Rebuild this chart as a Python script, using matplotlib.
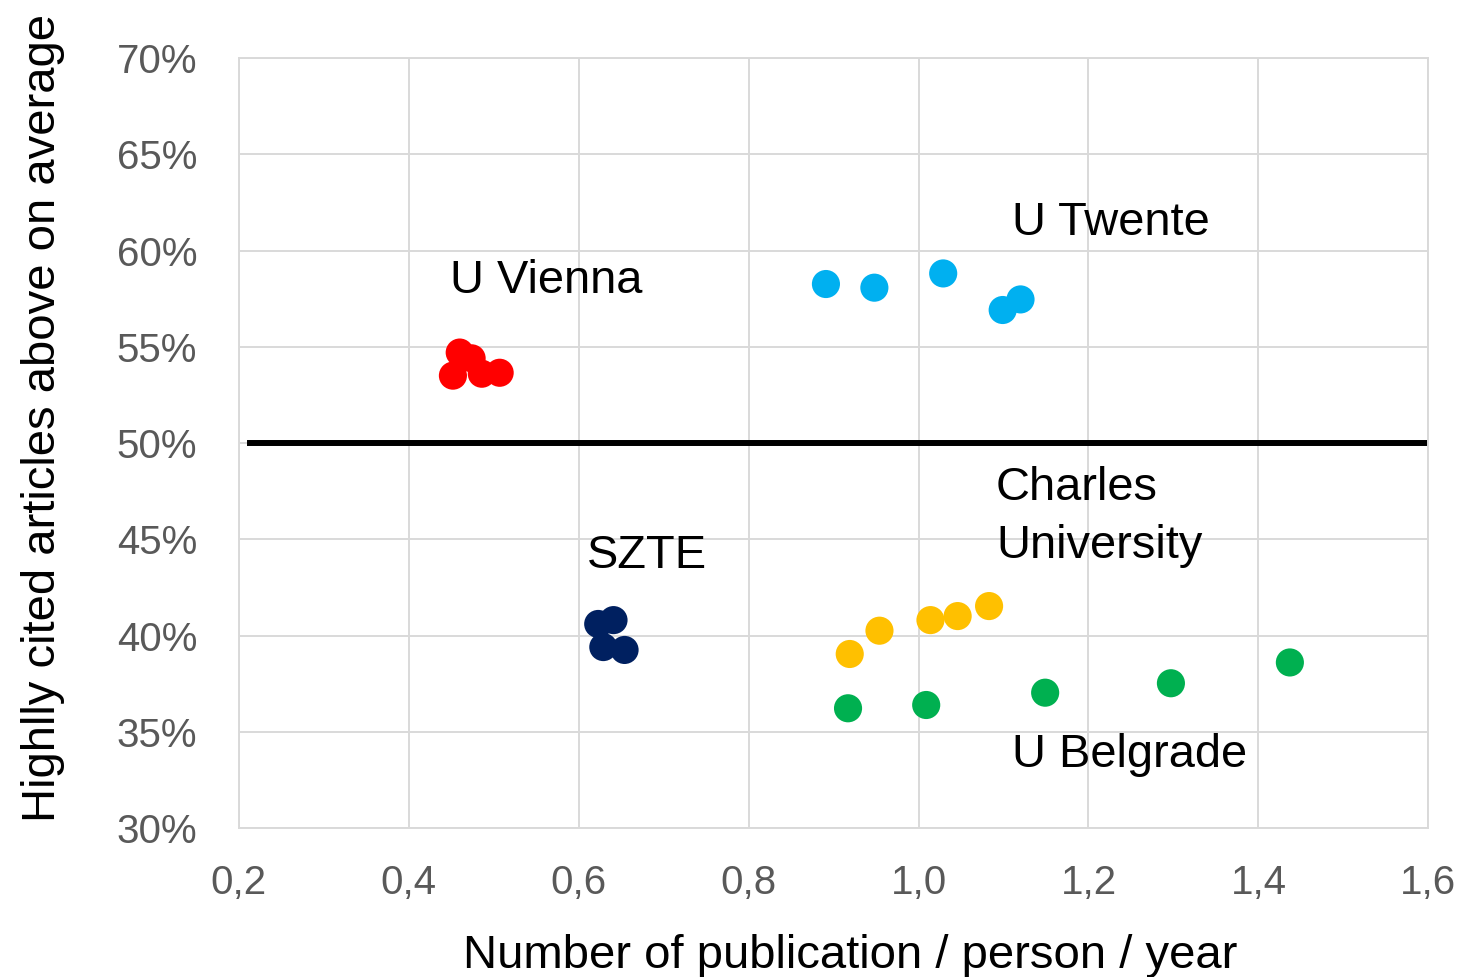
import matplotlib
matplotlib.use("Agg")
import matplotlib.pyplot as plt
from matplotlib.ticker import FuncFormatter

plt.rcParams['font.family'] = ['Liberation Sans', 'DejaVu Sans']

# publications / person / year  vs  share of highly cited articles (%)
vienna_x = [0.452, 0.460, 0.474, 0.486, 0.507]
vienna_y = [53.5, 54.7, 54.4, 53.6, 53.65]

szte_x = [0.623, 0.641, 0.629, 0.654]
szte_y = [40.6, 40.8, 39.4, 39.25]

twente_x = [0.891, 0.948, 1.029, 1.099, 1.120]
twente_y = [58.26, 58.07, 58.81, 56.91, 57.46]

charles_x = [0.919, 0.954, 1.014, 1.046, 1.083]
charles_y = [39.04, 40.25, 40.8, 41.01, 41.53]

belgrade_x = [0.917, 1.009, 1.149, 1.297, 1.437]
belgrade_y = [36.22, 36.39, 37.03, 37.52, 38.6]

groups = [
    (vienna_x, vienna_y, '#FF0000'),
    (szte_x, szte_y, '#002060'),
    (twente_x, twente_y, '#00B0F0'),
    (charles_x, charles_y, '#FFC000'),
    (belgrade_x, belgrade_y, '#00B050'),
]

x_ticks = [0.2, 0.4, 0.6, 0.8, 1.0, 1.2, 1.4, 1.6]
y_ticks = [30, 35, 40, 45, 50, 55, 60, 65, 70]

fig = plt.figure(figsize=(14.65, 9.77), dpi=100)
ax = fig.add_axes([0.163, 0.1525, 0.812, 0.7881])

for xs, ys, c in groups:
    ax.scatter(xs, ys, s=410, color=c, edgecolors='none', zorder=3)

ax.axhline(50, xmin=0.0093, xmax=0.9992, color='black', lw=4.3, zorder=2)

ax.set_xlim(0.2, 1.6)
ax.set_ylim(30, 70)
ax.set_xticks(x_ticks)
ax.set_yticks(y_ticks)
ax.xaxis.set_major_formatter(FuncFormatter(lambda v, p: f"{v:.1f}".replace('.', ',')))
ax.yaxis.set_major_formatter(FuncFormatter(lambda v, p: f"{v:.0f}%"))
ax.tick_params(axis='both', length=0, labelsize=29, labelcolor='#595959')
ax.tick_params(axis='x', pad=26)
ax.tick_params(axis='y', pad=30)

ax.grid(True, color='#d9d9d9', lw=1.4, zorder=0)
ax.set_axisbelow(True)
for sp in ax.spines.values():
    sp.set_color('#d9d9d9')
    sp.set_linewidth(1.4)

ax.set_xlabel('Number of publication / person / year', fontsize=34)
ax.set_ylabel('Highlly cited articles above on average', fontsize=34)
ax.xaxis.set_label_coords(0.514, -0.138)
ax.yaxis.set_label_coords(-0.146, 0.532)

labels = [
    ('U Vienna', 0.448, 57.8),
    ('U Twente', 1.110, 60.8),
    ('SZTE', 0.610, 43.5),
    ('Charles', 1.091, 47.04),
    ('University', 1.091, 44.05),
    ('U Belgrade', 1.110, 33.17),
]
for txt, x, y in labels:
    ax.text(x, y, txt, fontsize=33.8, ha='left', va='baseline', color='black')

fig.savefig('out.png', dpi=100)
